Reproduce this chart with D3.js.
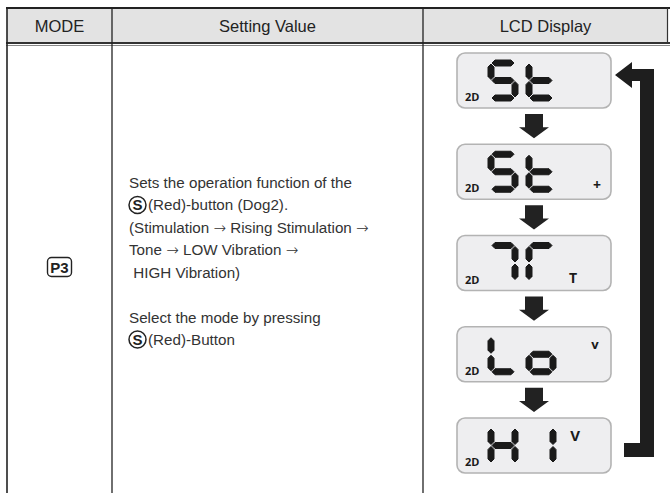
<!DOCTYPE html>
<html><head><meta charset="utf-8">
<script src="https://cdn.jsdelivr.net/npm/d3@7"></script>
<style>html,body{margin:0;padding:0;background:#fff;}svg{display:block;}</style>
</head><body>
<svg id="c" width="670" height="493"></svg>
<script>
// ---------- data ----------
const columns = ["MODE", "Setting Value", "LCD Display"];
const modeLabel = "P3";
const settingLines = [
  {circle: false, text: "Sets the operation function of the"},
  {circle: true,  text: "(Red)-button (Dog2)."},
  {circle: false, text: "(Stimulation \u2192 Rising Stimulation \u2192"},
  {circle: false, text: "Tone \u2192 LOW Vibration \u2192"},
  {circle: false, text: " HIGH Vibration)"},
  {circle: false, text: ""},
  {circle: false, text: "Select the mode by pressing"},
  {circle: true,  text: "(Red)-Button"}
];
const lcdDigits = [["S", "t"], ["S", "t"], ["7", "r"], ["L", "o"], ["H", "1"]];
const lcdIndicators = ["", "+", "T", "v", "V"];
const lcdPrefix = "2D";
const segmentsOf = {
  S: "afgcd", t: "fegd", "7": "abc", r: "afe", L: "fed", o: "gcde", H: "fbecg", "1": "bc"
};

// ---------- drawing ----------
(function () {
const svg = d3.select("#c");
const colEdges = [7, 112, 423, 668];
const xCol = d3.scaleOrdinal().domain(columns).range([0,1,2].map(i => (colEdges[i] + colEdges[i+1]) / 2));
const topY = 8, headBottom = 43;
const FONT = "Liberation Sans, Arial, sans-serif";

svg.append("rect").attr("x", 7).attr("y", topY).attr("width", 661).attr("height", headBottom - topY).attr("fill", "#e3e3e3");
svg.selectAll("text.head").data(columns).join("text").attr("class", "head")
  .attr("x", d => xCol(d)).attr("y", 32).attr("text-anchor", "middle")
  .attr("font-family", FONT).attr("font-size", 16.5).attr("fill", "#222")
  .text(d => d);

const ln = (x1, y1, x2, y2, w, c) => svg.append("line").attr("x1", x1).attr("y1", y1).attr("x2", x2).attr("y2", y2).attr("stroke", c).attr("stroke-width", w);
ln(6, topY, 670, topY, 2, "#222");
ln(6, headBottom, 670, headBottom, 2, "#333");
ln(6, headBottom + 2.5, 670, headBottom + 2.5, 1, "#888");
ln(667.5, topY, 667.5, headBottom, 1.2, "#333");
ln(7, topY, 7, 493, 1.6, "#222");
ln(112, topY, 112, 493, 1.3, "#222");
ln(423, topY, 423, 493, 1.3, "#222");

const gm = svg.append("g").attr("transform", `translate(${xCol("MODE")},267)`);
gm.append("rect").attr("x", -12).attr("y", -9.5).attr("width", 24).attr("height", 19).attr("rx", 4)
  .attr("fill", "#fff").attr("stroke", "#222").attr("stroke-width", 1.4);
gm.append("text").attr("text-anchor", "middle").attr("y", 6).attr("font-family", FONT)
  .attr("font-weight", "bold").attr("font-size", 15).attr("fill", "#222").text(modeLabel);

const yLine = d3.scaleLinear().domain([0, 7]).range([188, 345]);
const tx = 129;
settingLines.forEach((l, i) => {
  if (!l.text) return;
  const y = yLine(i);
  let x = tx;
  if (l.circle) {
    svg.append("circle").attr("cx", tx + 8.5).attr("cy", y - 5.5).attr("r", 8.5).attr("fill", "none").attr("stroke", "#222").attr("stroke-width", 1.5);
    svg.append("text").attr("x", tx + 8.5).attr("y", y).attr("text-anchor", "middle").attr("font-family", FONT)
      .attr("font-weight", "bold").attr("font-size", 15).attr("fill", "#222").text("S");
    x = tx + 19;
  }
  const te = svg.append("text").attr("x", x).attr("y", y).attr("font-family", FONT)
    .attr("font-size", 15.2).attr("fill", "#333").attr("xml:space", "preserve").style("white-space", "pre");
  l.text.split(/(\u2192)/).forEach(part => {
    if (!part) return;
    const sp = te.append("tspan").text(part);
    if (part === "\u2192") sp.attr("font-family", "DejaVu Sans, sans-serif").attr("font-weight", 200).attr("font-size", 15);
  });
});

const yBox = d3.scaleLinear().domain([0, lcdDigits.length - 1]).range([53, 418]);
const boxX = 457, boxW = 154, boxH = 55;
const W = 30, H = 41, t = 6;
function hseg(x0, yc) {
  const x1 = x0 + t/2 + 1, x2 = x0 + W - t/2 - 1;
  return [[x1, yc], [x1 + t/2, yc - t/2], [x2 - t/2, yc - t/2], [x2, yc], [x2 - t/2, yc + t/2], [x1 + t/2, yc + t/2]];
}
function vseg(xc, y1, y2) {
  return [[xc, y1], [xc + t/2, y1 + t/2], [xc + t/2, y2 - t/2], [xc, y2], [xc - t/2, y2 - t/2], [xc - t/2, y1 + t/2]];
}
function segPts(s, x0, y0) {
  switch (s) {
    case "a": return hseg(x0, y0 + t/2);
    case "g": return hseg(x0, y0 + H/2);
    case "d": return hseg(x0, y0 + H - t/2);
    case "f": return vseg(x0 + t/2, y0 + t/2 + 1, y0 + H/2 - 1);
    case "e": return vseg(x0 + t/2, y0 + H/2 + 1, y0 + H - t/2 - 1);
    case "b": return vseg(x0 + W - t/2, y0 + t/2 + 1, y0 + H/2 - 1);
    case "c": return vseg(x0 + W - t/2, y0 + H/2 + 1, y0 + H - t/2 - 1);
  }
}
const pathLine = d3.line().curve(d3.curveLinearClosed);
lcdDigits.forEach((digs, i) => {
  const by = yBox(i);
  const g = svg.append("g");
  g.append("rect").attr("x", boxX).attr("y", by).attr("width", boxW).attr("height", boxH).attr("rx", 8)
    .attr("fill", "#eeeef0").attr("stroke", "#b3b3b3").attr("stroke-width", 1.6);
  g.append("text").attr("x", boxX + 8).attr("y", by + 48).attr("font-family", "Open Sans, sans-serif")
    .attr("font-weight", "bold").attr("font-size", 11).attr("fill", "#1a1a1a").text(lcdPrefix);
  digs.forEach((d, j) => {
    const x0 = boxX + 31 + j * 38, y0 = by + 7;
    segmentsOf[d].split("").forEach(s => {
      g.append("path").attr("d", pathLine(segPts(s, x0, y0))).attr("fill", "#1a1a1a").attr("stroke", "#1a1a1a").attr("stroke-width", 1).attr("stroke-linejoin", "round");
    });
  });
  const ind = lcdIndicators[i];
  if (ind) {
    const pos = {"+": [boxX + 140, by + 46, 14], "T": [boxX + 116, by + 47, 14], "v": [boxX + 138, by + 22, 13], "V": [boxX + 118, by + 23, 15]}[ind];
    g.append("text").attr("x", pos[0]).attr("y", pos[1]).attr("text-anchor", "middle").attr("font-family", "Open Sans, sans-serif")
      .attr("font-weight", "bold").attr("font-size", pos[2]).attr("fill", "#1a1a1a").text(ind);
  }
  if (i < lcdDigits.length - 1) {
    const y1 = by + boxH + 6, y2 = yBox(i + 1) - 6, cx = 534;
    const hy = y2 - 11;
    svg.append("path").attr("d", pathLine([[cx - 9, y1], [cx + 9, y1], [cx + 9, hy], [cx + 15, hy], [cx, y2], [cx - 15, hy], [cx - 9, hy]]))
      .attr("fill", "#222");
  }
});

const ay = yBox(0) + 22, by2 = yBox(lcdDigits.length - 1) + 32;
svg.append("path").attr("d", pathLine([
  [615, ay], [632, ay - 13], [632, ay - 6], [654, ay - 6], [654, by2 + 7], [624, by2 + 7], [624, by2 - 7], [640, by2 - 7], [640, ay + 6], [632, ay + 6], [632, ay + 13]
])).attr("fill", "#1e1e1e");
})();
</script>
</body></html>
